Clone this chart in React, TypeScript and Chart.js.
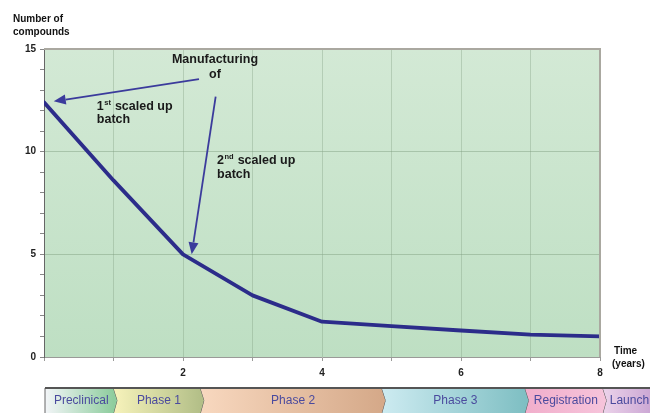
import React, { useEffect, useRef } from "react";
import { Chart, registerables } from "chart.js";
Chart.register(...registerables);

// ---- data ----
const years = [0, 1, 2, 3, 4, 5, 6, 7, 8];
const compounds = [12.4, 8.6, 5.0, 3.0, 1.72, 1.5, 1.29, 1.09, 1.0];
const xLabelYears = [2, 4, 6, 8];
const yLabelValues = [0, 5, 10, 15];
const phaseNames = ["Preclinical", "Phase 1", "Phase 2", "Phase 3", "Registration", "Launch"];
const phaseStarts = [0, 1, 2.25, 4.86, 6.92, 8.04];
const phaseEnd = 8.75;
const phaseColors: [string, string][] = [
  ["#f3f5f8", "#8ecd9e"],
  ["#f7f3bb", "#b3bf88"],
  ["#f8d8bf", "#d5a989"],
  ["#cdebf1", "#7fbfc3"],
  ["#f1aecb", "#f6c3da"],
  ["#ecd3ea", "#c59fd0"],
];
// annotation arrows: start (data coords) -> target (data coords)
const arrowStarts: [number, number][] = [[2.23, 13.53], [2.47, 12.68]];
const arrowTargets: [number, number][] = [[0.14, 12.45], [2.125, 5.0]];

const FONT = "'Liberation Sans', Arial, sans-serif";

function drawArrow(ctx: CanvasRenderingContext2D, x1: number, y1: number, x2: number, y2: number) {
  const ang = Math.atan2(y2 - y1, x2 - x1);
  const len = 12, hw = 5;
  const bx = x2 - Math.cos(ang) * len, by = y2 - Math.sin(ang) * len;
  ctx.save();
  ctx.strokeStyle = "#3b3b9c";
  ctx.fillStyle = "#3b3b9c";
  ctx.lineWidth = 1.8;
  ctx.beginPath();
  ctx.moveTo(x1, y1);
  ctx.lineTo(bx, by);
  ctx.stroke();
  ctx.beginPath();
  ctx.moveTo(x2, y2);
  ctx.lineTo(bx + Math.sin(ang) * hw, by - Math.cos(ang) * hw);
  ctx.lineTo(bx - Math.sin(ang) * hw, by + Math.cos(ang) * hw);
  ctx.closePath();
  ctx.fill();
  ctx.restore();
}

function drawSup(ctx: CanvasRenderingContext2D, x: number, y: number, base: string, sup: string, rest: string) {
  const main = `bold 12.5px ${FONT}`;
  ctx.font = main;
  ctx.fillText(base, x, y);
  const w1 = ctx.measureText(base).width;
  ctx.font = `bold 7.5px ${FONT}`;
  ctx.fillText(sup, x + w1 + 0.5, y - 4);
  const w2 = ctx.measureText(sup).width;
  ctx.font = main;
  ctx.fillText(rest, x + w1 + w2 + 1, y);
}

const decorPlugin = {
  id: "decor",
  beforeDraw(chart: any) {
    const { ctx, chartArea: a } = chart;
    ctx.save();
    ctx.fillStyle = "#ffffff";
    ctx.fillRect(0, 0, chart.width, chart.height);
    const g = ctx.createLinearGradient(0, a.top, 0, a.bottom);
    g.addColorStop(0, "#d3e9d5");
    g.addColorStop(1, "#bedfc3");
    ctx.fillStyle = g;
    ctx.fillRect(a.left, a.top, a.right - a.left, a.bottom - a.top);
    ctx.restore();
  },
  afterDatasetsDraw(chart: any) {
    const { ctx, chartArea: a, scales } = chart;
    const xs = scales.x, ys = scales.y;
    ctx.save();
    // top/right border
    ctx.strokeStyle = "#aaa8a0";
    ctx.lineWidth = 2;
    ctx.beginPath();
    ctx.moveTo(a.left, a.top);
    ctx.lineTo(a.right, a.top);
    ctx.lineTo(a.right, a.bottom);
    ctx.stroke();

    // arrows
    for (let i = 0; i < arrowStarts.length; i++) {
      drawArrow(
        ctx,
        xs.getPixelForValue(arrowStarts[i][0]), ys.getPixelForValue(arrowStarts[i][1]),
        xs.getPixelForValue(arrowTargets[i][0]), ys.getPixelForValue(arrowTargets[i][1])
      );
    }

    // annotation texts
    ctx.fillStyle = "#1a1a1a";
    ctx.textBaseline = "middle";
    ctx.textAlign = "center";
    ctx.font = `bold 12.5px ${FONT}`;
    ctx.fillText("Manufacturing", xs.getPixelForValue(2.46), ys.getPixelForValue(14.47));
    ctx.fillText("of", xs.getPixelForValue(2.46), ys.getPixelForValue(13.74));
    ctx.textAlign = "left";
    drawSup(ctx, xs.getPixelForValue(0.76), ys.getPixelForValue(12.18), "1", "st", " scaled up");
    ctx.fillText("batch", xs.getPixelForValue(0.76), ys.getPixelForValue(11.55));
    drawSup(ctx, xs.getPixelForValue(2.49), ys.getPixelForValue(9.55), "2", "nd", " scaled up");
    ctx.fillText("batch", xs.getPixelForValue(2.49), ys.getPixelForValue(8.87));

    // axis titles
    ctx.font = `bold 10px ${FONT}`;
    ctx.fillStyle = "#111";
    ctx.fillText("Number of", 13, 19);
    ctx.fillText("compounds", 13, 32);
    ctx.fillText("Time", 614, a.bottom - 6);
    ctx.fillText("(years)", 612, a.bottom + 7);

    // phase bar
    const top = a.bottom + 31;
    const bot = chart.height + 2;
    const mid = (top + bot) / 2 - 1;
    const d = 4;
    for (let i = 0; i < phaseNames.length; i++) {
      const x0 = xs.getPixelForValue(phaseStarts[i]) + (i === 0 ? 1 : 0);
      const x1 = i + 1 < phaseStarts.length ? xs.getPixelForValue(phaseStarts[i + 1]) : Math.max(xs.getPixelForValue(phaseEnd), chart.width + 10);
      const gr = ctx.createLinearGradient(x0, 0, x1, 0);
      gr.addColorStop(0, phaseColors[i][0]);
      gr.addColorStop(1, phaseColors[i][1]);
      ctx.fillStyle = gr;
      ctx.beginPath();
      ctx.moveTo(x0, top);
      ctx.lineTo(x1, top);
      ctx.lineTo(x1 + d, mid);
      ctx.lineTo(x1, bot);
      ctx.lineTo(x0, bot);
      if (i > 0) ctx.lineTo(x0 + d, mid);
      ctx.closePath();
      ctx.fill();
      // chevron edge
      ctx.strokeStyle = "#555";
      ctx.lineWidth = 1;
      ctx.beginPath();
      ctx.moveTo(x1, top);
      ctx.lineTo(x1 + d, mid);
      ctx.lineTo(x1, bot);
      ctx.stroke();
      // label
      ctx.fillStyle = "#4a4a9e";
      ctx.font = `12px ${FONT}`;
      ctx.textAlign = "center";
      const right = Math.min(x1, chart.width);
      ctx.fillText(phaseNames[i], (x0 + d + right) / 2 + (i === phaseNames.length - 1 ? 1 : 0), top + 13);
    }
    // left edge & top line
    const lx = xs.getPixelForValue(phaseStarts[0]) + 1;
    ctx.strokeStyle = "#666";
    ctx.lineWidth = 1;
    ctx.beginPath();
    ctx.moveTo(lx, bot);
    ctx.lineTo(lx, top);
    ctx.stroke();
    ctx.strokeStyle = "#555";
    ctx.lineWidth = 2;
    ctx.beginPath();
    ctx.moveTo(lx, top);
    ctx.lineTo(chart.width, top);
    ctx.stroke();
    ctx.restore();
  },
};

export default function App() {
  const ref = useRef<HTMLCanvasElement | null>(null);
  useEffect(() => {
    document.body.style.margin = "0";
    if (!ref.current) return;
    const chart = new Chart(ref.current, {
      type: "line",
      data: {
        datasets: [
          {
            data: years.map((x, i) => ({ x, y: compounds[i] })),
            borderColor: "#2c2c8a",
            borderWidth: 3.8,
            pointRadius: 0,
            tension: 0,
            fill: false,
            borderJoinStyle: "round",
            borderCapStyle: "round",
          },
        ],
      },
      options: {
        animation: false,
        responsive: false,
        layout: { padding: { top: 49, right: 50, left: 0, bottom: 0 } },
        plugins: { legend: { display: false }, tooltip: { enabled: false } },
        scales: {
          x: {
            type: "linear",
            min: 0,
            max: 8,
            afterFit: (s: any) => { s.height = 56; },
            border: { display: true, color: "#9a9a98", width: 1 },
            grid: {
              color: (c: any) => {
                const v = c.tick ? c.tick.value : 0;
                return v === 0 || v === 8 ? "rgba(0,0,0,0)" : "rgba(125,155,125,0.35)";
              },
              tickColor: "#9a9a98",
              tickLength: 4,
              lineWidth: 1,
            },
            ticks: {
              stepSize: 1,
              autoSkip: false,
              maxRotation: 0,
              padding: 6,
              color: "#222",
              font: { family: FONT, size: 10, weight: "bold" },
              callback: (v: any) => (xLabelYears.includes(Number(v)) ? String(v) : ""),
            },
          },
          y: {
            min: 0,
            max: 15,
            afterFit: (s: any) => { s.width = 44; },
            border: { display: true, color: "#666", width: 1 },
            grid: {
              color: (c: any) => {
                const v = c.tick ? c.tick.value : 0;
                return v % 5 === 0 && v > 0 && v < 15 ? "rgba(125,155,125,0.45)" : "rgba(0,0,0,0)";
              },
              tickColor: "#888",
              tickLength: 4,
              lineWidth: 1,
            },
            ticks: {
              stepSize: 1,
              autoSkip: false,
              padding: 4,
              color: "#222",
              font: { family: FONT, size: 10, weight: "bold" },
              callback: (v: any) => (yLabelValues.includes(Number(v)) ? String(v) : ""),
            },
          },
        },
      },
      plugins: [decorPlugin],
    } as any);
    return () => chart.destroy();
  }, []);
  return (
    <div style={{ position: "absolute", left: 0, top: 0, width: 650, height: 413 }}>
      <canvas ref={ref} width={650} height={413} style={{ display: "block" }} />
    </div>
  );
}
